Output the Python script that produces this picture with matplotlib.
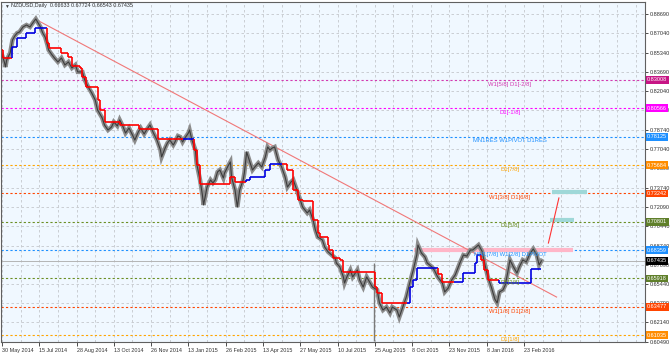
import matplotlib
matplotlib.use("Agg")
import matplotlib.pyplot as plt

plt.rcParams['font.family'] = ['Liberation Sans', 'DejaVu Sans']

# ---------------- data ----------------
bar_idx = [0, 2, 3, 4, 7, 9, 11, 13, 15, 18, 21, 24, 27, 29, 31, 33, 35, 37, 39, 40,
           43, 45, 48, 51, 54, 57, 60, 63, 65, 69, 71, 74, 77, 80, 82, 86,
           88, 91, 94, 96, 99, 101, 104, 106, 109, 112, 114, 117, 119, 122, 124, 127,
           130, 133, 136, 137, 140, 142, 144, 147, 148, 151, 153, 155, 157, 160, 161, 163,
           166, 167, 170, 172, 173, 176, 179, 181, 183, 185, 187, 190, 191, 194, 196, 197,
           200, 202, 204, 207, 208, 210, 213, 215, 217, 220, 223, 226, 228, 230, 232, 234,
           237, 240, 243, 245, 248, 250, 253, 256,
           258, 262, 264, 267, 269, 271, 275, 277, 280, 283, 286, 287, 290, 293, 294, 296,
           299, 301, 305, 307, 310, 313, 316, 318, 322, 324, 327, 330, 333, 335, 339, 341,
           344, 347, 350, 353, 356, 357, 360, 363, 365, 369, 371, 374, 378, 380, 383, 386,
           389, 390, 393, 396, 399, 402, 404, 407, 409, 412, 414, 417, 420, 423, 425, 427,
           430, 432, 434, 436, 439, 442, 444, 447, 450, 453, 456, 459, 461, 463]
close = [0.8516, 0.8456, 0.8413, 0.8473, 0.8533, 0.8645, 0.8680, 0.8705, 0.8714, 0.8757,
         0.8774, 0.8757, 0.8800, 0.8826, 0.8792, 0.8757, 0.8705, 0.8671, 0.8602, 0.8559,
         0.8516, 0.8490, 0.8456, 0.8490, 0.8430, 0.8456, 0.8404, 0.8430, 0.8370, 0.8370,
         0.8301, 0.8240, 0.8189, 0.8129, 0.8043, 0.7974,
         0.7913, 0.7870, 0.7896, 0.7939, 0.7905, 0.7957, 0.7896, 0.7844, 0.7887, 0.7827,
         0.7784, 0.7853, 0.7887, 0.7836, 0.7870, 0.7913,
         0.7844, 0.7784, 0.7698, 0.7638, 0.7715, 0.7758, 0.7784, 0.7741, 0.7758, 0.7819,
         0.7810, 0.7767, 0.7801, 0.7844, 0.7870, 0.7784, 0.7698, 0.7586, 0.7440, 0.7311,
         0.7225, 0.7379, 0.7440, 0.7414, 0.7440, 0.7509, 0.7526, 0.7457, 0.7500, 0.7560,
         0.7595, 0.7466, 0.7354, 0.7207, 0.7354, 0.7440, 0.7500, 0.7681, 0.7586, 0.7526,
         0.7552, 0.7586, 0.7552, 0.7638, 0.7724, 0.7698, 0.7715, 0.7724, 0.7612, 0.7552,
         0.7466, 0.7379, 0.7422, 0.7440, 0.7354, 0.7268,
         0.7207, 0.7156, 0.7181, 0.7095, 0.7009, 0.6949, 0.6923, 0.6863, 0.6820, 0.6794,
         0.6768, 0.6725, 0.6691, 0.6605, 0.6553, 0.6605, 0.6665, 0.6605, 0.6665, 0.6579,
         0.6518, 0.6605, 0.6553, 0.6518, 0.6493, 0.6381, 0.6320, 0.6346, 0.6295, 0.6346,
         0.6320, 0.6260, 0.6346, 0.6432, 0.6553, 0.6665, 0.6794, 0.6880, 0.6811, 0.6777,
         0.6725, 0.6691, 0.6665, 0.6605, 0.6553, 0.6476, 0.6510, 0.6579, 0.6622, 0.6648,
         0.6725, 0.6794, 0.6785, 0.6837, 0.6837, 0.6863, 0.6880, 0.6828, 0.6734, 0.6605,
         0.6518, 0.6415, 0.6381, 0.6476, 0.6493, 0.6536, 0.6639, 0.6751, 0.6691, 0.6639,
         0.6691, 0.6751, 0.6734, 0.6803, 0.6846, 0.6794, 0.6708, 0.67435]

spike_bar = 319
spike_high = 0.6725
spike_low = 0.6052

stair_start = [0, 1, 9, 13, 21, 28, 39, 40, 51, 57, 60, 67, 69, 72, 82, 84, 88, 101, 118, 134,
               155, 165, 167, 170, 196, 200, 209, 213, 226, 230, 240, 245, 250, 254, 258, 267,
               271, 273, 280, 281, 284, 290, 293, 320, 322, 326, 348, 350, 353, 356, 374, 378,
               388, 396, 406, 408, 411, 414, 417, 427, 454]
stair_level = [0.8559, 0.8490, 0.8585, 0.8662, 0.8705, 0.8748, 0.8619, 0.8576, 0.8533, 0.8499,
               0.8421, 0.8404, 0.8327, 0.8240, 0.8129, 0.8043, 0.7939, 0.7913, 0.7879, 0.7793,
               0.7793, 0.7698, 0.7569, 0.7405, 0.7466, 0.7422, 0.7440, 0.7466, 0.7526, 0.7578,
               0.7578, 0.7526, 0.7354, 0.7268, 0.7259, 0.7095, 0.6983, 0.6949, 0.6880, 0.6837,
               0.6768, 0.6751, 0.6648, 0.6518, 0.6467, 0.6381, 0.6381, 0.6518, 0.6579, 0.6682,
               0.6630, 0.6562, 0.6562, 0.6639, 0.6725, 0.6794, 0.6751, 0.6665, 0.6579, 0.6553,
               0.6673]
stair_trend = ['dn', 'dn', 'up', 'up', 'up', 'up', 'dn', 'dn', 'dn', 'dn',
               'dn', 'dn', 'dn', 'dn', 'dn', 'dn', 'dn', 'dn', 'dn', 'dn',
               'up', 'dn', 'dn', 'dn', 'dn', 'dn', 'up', 'up', 'up', 'up',
               'dn', 'dn', 'dn', 'dn', 'dn', 'dn', 'dn', 'dn', 'dn', 'dn',
               'dn', 'dn', 'dn', 'dn', 'dn', 'dn', 'up', 'up', 'up', 'up',
               'dn', 'dn', 'up', 'up', 'up', 'up', 'dn', 'dn', 'dn', 'up',
               'up']
stair_end = 463

murrey_price = [0.83008, 0.80566, 0.78125, 0.75684, 0.73242, 0.70801, 0.68359, 0.65918, 0.63477, 0.61035]
murrey_color = ['#d23ab0', '#ff00ff', '#1e90ff', '#ffa500', '#ff4500', '#6b8e23', '#1e90ff', '#6b8e23', '#ff4500', '#ffa500']
murrey_box = ['#c71585', '#ff00ff', '#1e90ff', '#ff8c00', '#ff4500', '#5f7f2a', '#1e90ff', '#5f7f2a', '#ff4500', '#ff8c00']
murrey_label = ['W1[5/8] D1[-2/8]', 'D1[-1/8]', 'MN1RES W1PIVOT D1RES', 'D1[7/8]', 'W1[3/8] D1[6/8]',
                'D1[5/8]', 'MN1[7/8] W1[2/8] D1PIVOT', 'D1[3/8]', 'W1[1/8] D1[2/8]', 'D1[1/8]']

last_price = 0.67435
title_text = 'NZDUSD,Daily  0.66633 0.67724 0.66543 0.67435'

trend_x = [30, 476]
trend_y = [0.8817, 0.6432]

zone_start = [354]
zone_end = [490]
zone_price = [0.6836]

target_start = [472, 470]
target_end = [502, 491]
target_price = [0.7335, 0.7095]

proj_x = [469, 478]
proj_y = [0.6897, 0.7285]

ytick_vals = [0.88690, 0.87040, 0.85340, 0.83690, 0.82040, 0.80390, 0.78740, 0.77040, 0.75390,
              0.73740, 0.72090, 0.70440, 0.68740, 0.67090, 0.65440, 0.63790, 0.62140, 0.60490]
xtick_labels = ['30 May 2014', '15 Jul 2014', '28 Aug 2014', '13 Oct 2014', '26 Nov 2014',
                '13 Jan 2015', '26 Feb 2015', '13 Apr 2015', '27 May 2015', '10 Jul 2015',
                '25 Aug 2015', '8 Oct 2015', '23 Nov 2015', '8 Jan 2016', '23 Feb 2016']
bars_per_label = 32

# ---------------- figure ----------------
fig = plt.figure(figsize=(6.7, 3.55), dpi=100)
fig.patch.set_facecolor('white')
ax = fig.add_axes([1 / 670, 13 / 355, 644 / 670, 340 / 355])
ax.set_facecolor('#f0f8ff')
ax.set_xlim(-0.86, 551.9)
ax.set_ylim(0.6045, 0.8972)

grid_kw = dict(color='#c4c8cc', lw=0.6, ls=(0, (3, 3)), zorder=0.5)
for k in range(0, 552, bars_per_label // 2):
    ax.axvline(k, **grid_kw)
for v in ytick_vals:
    ax.axhline(v, **grid_kw)

for p, c in zip(murrey_price, murrey_color):
    ax.axhline(p, color=c, lw=0.8, ls=(0, (2, 2)), zorder=1)
ax.axhline(last_price, color='#b4b4b4', lw=0.7, zorder=1.1)

for s, e, p in zip(zone_start, zone_end, zone_price):
    ax.plot([s, e], [p, p], color='#ffb6c8', lw=3.0, solid_capstyle='butt', zorder=1.3)
for s, e, p in zip(target_start, target_end, target_price):
    ax.plot([s, e], [p, p], color='#9fd8d8', lw=3.0, solid_capstyle='butt', zorder=1.3)

ax.plot(trend_x, trend_y, color='#f07878', lw=0.8, zorder=1.5)
ax.plot(proj_x, proj_y, color='#ff3333', lw=0.8, zorder=1.5)

# price
ax.plot(bar_idx, close, color='#8c8c8c', lw=3.2, zorder=2, solid_joinstyle='miter')
ax.plot(bar_idx, close, color='#3c3c3c', lw=0.8, zorder=2.1)
ax.vlines(spike_bar, spike_low, spike_high, color='#7a7a7a', lw=1.0, zorder=2)

# stair indicator
col = {'dn': '#ff0000', 'up': '#0000e0'}
n = len(stair_start)
for i in range(n):
    x0 = stair_start[i]
    x1 = stair_start[i + 1] if i + 1 < n else stair_end
    ax.plot([x0, x1], [stair_level[i], stair_level[i]], color=col[stair_trend[i]], lw=1.2,
            zorder=3, solid_capstyle='butt')
    if i + 1 < n:
        ax.plot([x1, x1], [stair_level[i], stair_level[i + 1]], color=col[stair_trend[i + 1]],
                lw=1.2, zorder=3, solid_capstyle='butt')

# level labels
for p, c, lab in zip(murrey_price, murrey_color, murrey_label):
    ax.text(436, p - 0.0036, lab, color=c, fontsize=4.2, ha='center', va='center', zorder=4)

# axes
for sp in ax.spines.values():
    sp.set_color('#606060')
    sp.set_linewidth(0.8)
ax.yaxis.tick_right()
ax.set_yticks(ytick_vals)
ax.set_yticklabels([f'{v:.5f}' for v in ytick_vals])
ax.tick_params(axis='y', length=2.5, width=0.6, pad=1.2, labelsize=4.0, colors='#303030')
ax.set_xticks([i * bars_per_label for i in range(len(xtick_labels))])
ax.set_xticklabels(xtick_labels, ha='left')
ax.tick_params(axis='x', length=3, width=0.6, pad=1.0, labelsize=3.9, colors='#303030')

# price boxes on right axis
ytr = ax.get_yaxis_transform()
for p, c in zip(murrey_price, murrey_box):
    ax.text(1.003, p, f'{p:.5f}', transform=ytr, fontsize=4.0, color='white', ha='left',
            va='center', zorder=6, clip_on=False,
            bbox=dict(boxstyle='square,pad=0.25', fc=c, ec='none'))
ax.text(1.003, last_price, f'{last_price:.5f}', transform=ytr, fontsize=4.0, color='white',
        ha='left', va='center', zorder=6, clip_on=False,
        bbox=dict(boxstyle='square,pad=0.25', fc='black', ec='none'))

fig.text(4 / 670, 1 - 6 / 355, '\u25bc', fontsize=3.5, color='#404040', va='center', ha='left')
fig.text(11 / 670, 1 - 6 / 355, title_text, fontsize=3.9, color='#303030', va='center', ha='left')

fig.savefig('out.png', dpi=100, facecolor='white')
